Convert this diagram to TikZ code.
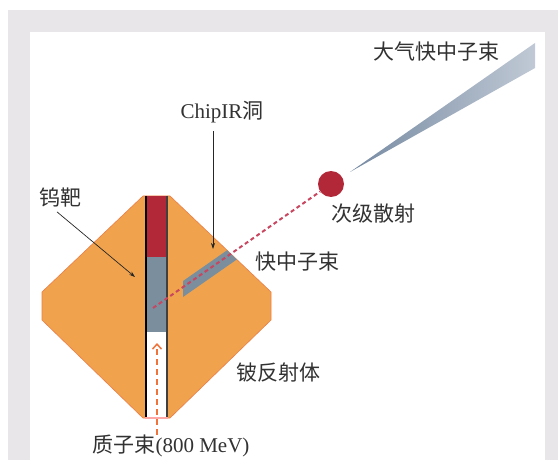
\documentclass[tikz,border=0pt]{standalone}
\usepackage{fontspec}
\setmainfont{Liberation Serif}
\newfontfamily\cjk{Noto Sans CJK SC}
\usetikzlibrary{arrows.meta}
\definecolor{framegray}{RGB}{232, 230, 232}
\definecolor{berylorange}{RGB}{240, 163, 76}
\definecolor{edgeorange}{RGB}{236, 125, 70}
\definecolor{tungstenred}{RGB}{178, 40, 56}
\definecolor{holeslate}{RGB}{122, 142, 158}
\definecolor{scatterred}{RGB}{200, 70, 95}
\definecolor{protonorange}{RGB}{240, 115, 60}
\definecolor{conedark}{RGB}{118, 138, 162}
\definecolor{conelight}{RGB}{192, 201, 213}
\definecolor{textgray}{RGB}{50, 50, 50}

\begin{document}
\begin{tikzpicture}[x=1pt, y=-1pt,
  lbl/.style={font=\fontsize{21}{24}\selectfont, text=textgray, inner sep=0pt},
  pointer/.style={-{Stealth[length=6pt, width=4pt]}, line width=0.7pt, black!85}]
  \useasboundingbox (0,0) rectangle (558,460);

  % frame
  \fill[framegray] (8,10) rectangle (558,460);
  \fill[white] (30,32) rectangle (545,460);

  % beryllium reflector
  \fill[berylorange, draw=edgeorange, line width=0.6pt]
    (143,196) -- (170,196) -- (271,292) -- (271,320) -- (170,418)
    -- (143,418) -- (42,320) -- (42,292) -- cycle;

  % target channel: tungsten on top, gap below
  \fill[white] (145,196) rectangle (168,418);
  \fill[tungstenred] (147,196) rectangle (167,257);
  \fill[holeslate] (147,257) rectangle (167,332);
  \draw[black, line width=1.6pt] (146,196) -- (146,418);
  \draw[black!75, line width=1.6pt] (167,196) -- (167,418);
  \draw[red!35, line width=1.2pt] (145,418) -- (168,418);

  % ChipIR hole through the reflector
  \begin{scope}
    \clip (170,196) -- (271,292) -- (271,320) -- (170,418) -- cycle;
    \fill[holeslate] (183,281) -- (260,227.3) -- (260,243.3) -- (183,297) -- cycle;
  \end{scope}

  % scattered beam and atmospheric-like fast neutron cone
  \node[circle, fill=tungstenred, minimum size=26pt, inner sep=0pt] (scatter) at (331,184) {};
  \coordinate (start) at (153,308);
  \draw[scatterred, line width=2pt, dash pattern=on 4pt off 3pt] (start) -- (scatter);
  \shade[left color=conedark, right color=conelight] (350,172) -- (535,43) -- (535,68) -- cycle;

  % proton beam
  \node[lbl] (plab) at (171,446) {{\cjk 质子束}(800 MeV)};
  \coordinate (ptip) at (157,343);
  \draw[protonorange, line width=1.5pt, dash pattern=on 6pt off 4pt,
    -{Straight Barb[length=5pt, width=9pt]}] (ptip |- plab.north) -- (ptip);

  % labels
  \node[lbl] (wlab) at (60,198) {\cjk 钨靶};
  \coordinate (wtip) at (135,277);
  \draw[pointer] ([xshift=-3pt, yshift=-4pt]wlab.south) -- (wtip);

  \node[lbl] (chiplab) at (222,112) {ChipIR{\cjk 洞}};
  \coordinate (chiptip) at (213,249);
  \draw[pointer] (chiptip |- chiplab.south) ++(0,8) -- (chiptip);

  \node[lbl] (slab) at (373,214) {\cjk 次级散射};
  \node[lbl] (fastlab) at (297,262) {\cjk 快中子束};
  \node[lbl] (atmolab) at (436,52) {\cjk 大气快中子束};
  \node[lbl] (belab) at (278,373) {\cjk 铍反射体};
\end{tikzpicture}
\end{document}
